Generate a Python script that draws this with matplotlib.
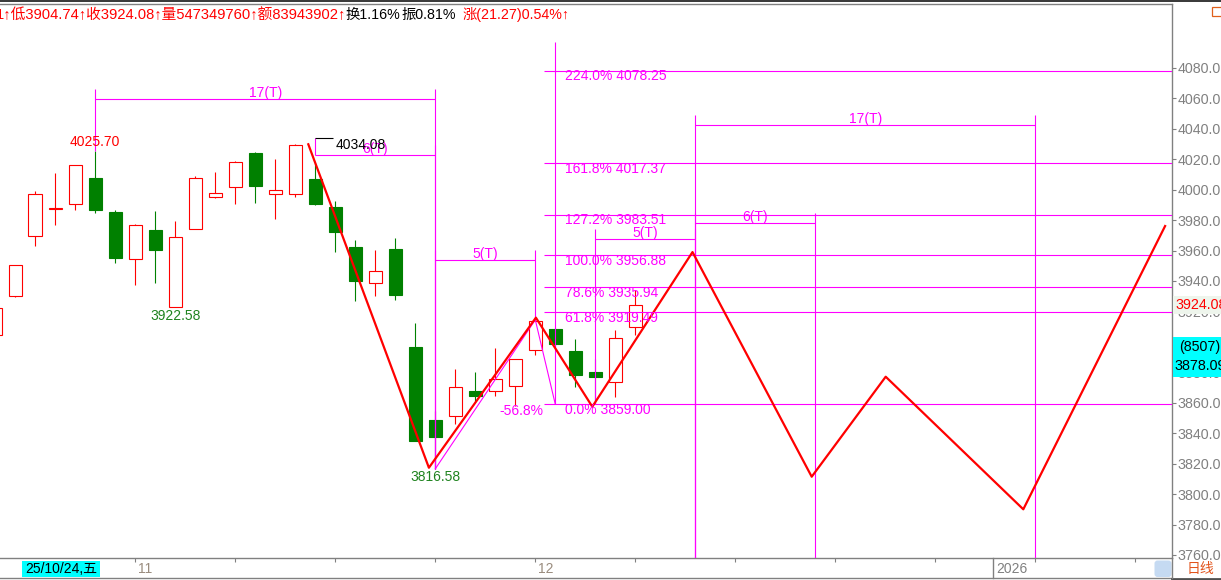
import matplotlib
matplotlib.use('Agg')
import matplotlib.pyplot as plt
from matplotlib.patches import Rectangle, FancyBboxPatch

plt.rcParams['font.family'] = ['Liberation Sans', 'Noto Sans CJK SC', 'DejaVu Sans']

W, H = 1221, 580
RED = '#ff0000'
GREEN = '#008000'
MAG = '#ff00ff'
GRAY = '#808080'

# daily bars, oldest first (bar 0 is cut by the left edge)
opens  = [3904.5, 3930.0, 3969.4, 3987.3, 3990.4, 4007.7, 3985.3, 3954.3, 3973.3, 3922.58,
          3974.0, 3995.0, 4002.0, 4024.1, 3997.0, 3997.0, 4007.0, 3988.6, 3962.4, 3938.5,
          3961.0, 3896.6, 3848.7, 3851.3, 3867.7, 3867.5, 3871.2, 3894.7, 3908.3, 3894.0,
          3880.0, 3873.5, 3909.6]
highs  = [3924.0, 3950.5, 3999.1, 4010.8, 4016.3, 4025.70, 3986.5, 3977.3, 3986.0, 3979.2,
          4008.8, 4011.6, 4018.9, 4024.8, 4020.2, 4029.8, 4017.3, 3992.6, 3967.0, 3960.1,
          3968.3, 3912.4, 3854.6, 3882.2, 3880.0, 3896.2, 3888.8, 3914.46, 3909.0, 3901.9,
          3888.8, 3907.8, 3934.1]
lows   = [3903.0, 3929.3, 3963.2, 3976.8, 3986.9, 3984.9, 3952.0, 3937.6, 3938.9, 3922.58,
          3974.0, 3994.3, 3990.8, 3991.5, 3981.0, 3995.0, 3990.0, 3959.3, 3927.1, 3930.4,
          3927.5, 3835.1, 3816.58, 3845.9, 3860.7, 3864.7, 3857.9, 3891.4, 3897.5, 3870.6,
          3859.00, 3864.0, 3904.74]
closes = [3922.3, 3950.3, 3997.0, 3988.0, 4016.0, 3986.9, 3955.3, 3976.6, 3960.6, 3968.7,
          4007.5, 3997.6, 4018.0, 4002.4, 3999.6, 4029.2, 3990.8, 3972.4, 3940.2, 3946.4,
          3930.8, 3835.1, 3837.3, 3870.2, 3864.7, 3875.4, 3888.8, 3913.9, 3898.4, 3878.4,
          3876.7, 3902.81, 3924.08]

# hand drawn red zigzag (bar index, price)
zz_x = [15.65, 21.68, 27.03, 29.85, 34.86, 40.82, 44.52, 51.40, 58.49]
zz_y = [4029.8, 3817.3, 3915.9, 3857.4, 3959.0, 3811.4, 3877.1, 3790.0, 3976.1]

# fibonacci extension tool
fib_x = [22, 27, 28]
fib_y = [3816.58, 3914.46, 3859.00]
fib_ratio = ['224.0%', '161.8%', '127.2%', '100.0%', '78.6%', '61.8%', '0.0%']
fib_price = [4078.25, 4017.37, 3983.51, 3956.88, 3935.94, 3919.49, 3859.00]
fib_x0 = 27.45

# time cycle rulers
cyc_start = [5, 16, 22, 30, 35, 35]
cyc_end = [22, 22, 27, 35, 52, 41]
cyc_level = [4059.4, 4022.8, 3953.9, 3967.4, 4042.3, 3977.9]
cyc_anchor_l = [4025.70, 4034.08, 3816.58, 3859.00, None, None]
cyc_anchor_r = [3816.58, 3816.58, 3914.46, None, None, None]

price_ticks = list(range(3760, 4081, 20))
week_ticks = [12, 17, 22, 32, 37, 42, 47, 52, 57]
month_ticks = [7, 27]
month_labels = ['11', '12']
year_tick = 49.9

fig = plt.figure(figsize=(W / 100, H / 100), dpi=100)
ax = fig.add_axes([0, 22 / H, 1172 / W, 554.5 / H])
ax.set_xlim(0.235, 58.835)
ax.set_ylim(3758.0, 4122.3)
ybot, ytop = ax.get_ylim()
xright = ax.get_xlim()[1]

# candles
w = 0.68
for i in range(len(opens)):
    o, h, l, c = opens[i], highs[i], lows[i], closes[i]
    up = c >= o
    col = RED if up else GREEN
    ax.vlines(i, l, h, color=col, lw=0.8, zorder=2)
    ax.add_patch(Rectangle((i - w / 2, min(o, c)), w, max(abs(c - o), 0.4),
                           facecolor='white' if up else col, edgecolor=col, lw=0.8, zorder=3))

# time cycles
seg = dict(color=MAG, lw=0.8, zorder=4)
for s, e, lv, al, ar in zip(cyc_start, cyc_end, cyc_level, cyc_anchor_l, cyc_anchor_r):
    top = lv + 6.6
    ax.hlines(lv, s, e, **seg)
    for x, a in ((s, al), (e, ar)):
        a = ybot if a is None else a
        ax.vlines(x, min(a, lv), max(a, top), **seg)
    ax.annotate(f'{e - s}(T)', xy=((s + e) / 2, lv), xytext=(0, 6), textcoords='offset pixels',
                ha='center', va='center', color=MAG, fontsize=10, zorder=6)

# fib extension
ax.plot(fib_x, fib_y, color=MAG, lw=0.8, zorder=4)
ax.hlines(fib_price, fib_x0, xright, **seg)
ax.vlines(fib_x[2], fib_y[2], 4097, **seg)
for r, p in zip(fib_ratio, fib_price):
    ax.annotate(f'{r} {p:.2f}', xy=(fib_x0, p), xytext=(20.5, -5.7), textcoords='offset pixels',
                ha='left', va='center', color=MAG, fontsize=10, zorder=6)
ax.annotate('-56.8%', xy=(fib_x0, fib_y[2]), xytext=(-1, -7), textcoords='offset pixels',
            ha='right', va='center', color=MAG, fontsize=10, zorder=6)

# zigzag
ax.plot(zz_x, zz_y, color=RED, lw=1.6, zorder=5)

# price labels
ax.annotate('4025.70', xy=(5, 4025.70), xytext=(0, 8.5), textcoords='offset pixels',
            ha='center', va='center', color=RED, fontsize=10, zorder=6)
ax.annotate('3922.58', xy=(9, 3922.58), xytext=(0, -8.7), textcoords='offset pixels',
            ha='center', va='center', color='#1f831f', fontsize=10, zorder=6)
ax.annotate('3816.58', xy=(22, 3816.58), xytext=(0, -8.5), textcoords='offset pixels',
            ha='center', va='center', color='#1f831f', fontsize=10, zorder=6)
ax.hlines(4034.08, 16, 16.87, color='black', lw=0.8, zorder=5)
ax.annotate('4034.08', xy=(16, 4034.08), xytext=(20, -7.7), textcoords='offset pixels',
            ha='left', va='center', color='black', fontsize=10, zorder=6)

# axes styling
ax.yaxis.tick_right()
ax.set_yticks(price_ticks)
ax.set_yticklabels([f'{v:.1f}' for v in price_ticks])
ax.tick_params(axis='y', direction='out', length=3, width=0.8, color=GRAY,
               labelcolor=GRAY, labelsize=10.3, pad=1.2)
ax.set_xticks(week_ticks + month_ticks)
ax.tick_params(axis='x', direction='out', length=3, width=0.8, color=GRAY, labelbottom=False)
ax.spines['left'].set_visible(False)
for sp in ('top', 'bottom', 'right'):
    ax.spines[sp].set_color(GRAY)
    ax.spines[sp].set_linewidth(1.0)

for m, lbl in zip(month_ticks, month_labels):
    ax.annotate(lbl, xy=(m, 0), xycoords=('data', 'axes fraction'), xytext=(3, -11),
                textcoords='offset pixels', ha='left', va='center', color='#9a8c7e', fontsize=10)
ax.axvline(year_tick, ymin=-0.036, ymax=0, clip_on=False, color=GRAY, lw=1.0)
ax.annotate('2026', xy=(year_tick, 0), xycoords=('data', 'axes fraction'), xytext=(2.5, -11),
            textcoords='offset pixels', ha='left', va='center', color=GRAY, fontsize=10)
ax.annotate(f'{closes[-1]:.2f}', xy=(1, closes[-1]), xycoords=('axes fraction', 'data'),
            xytext=(3, 0), textcoords='offset pixels', ha='left', va='center', color=RED,
            fontsize=10.3, zorder=7, annotation_clip=False,
            bbox=dict(boxstyle='square,pad=0.12', fc='#eef5ec', ec='none'))

# window chrome in pixel coordinates
ov = fig.add_axes([0, 0, 1, 1], zorder=10)
ov.set_xlim(0, W)
ov.set_ylim(H, 0)
ov.axis('off')
ov.add_patch(Rectangle((0, 0), W, 2.3, fc='#3c3c3c', ec='none'))
ov.add_patch(Rectangle((1211.5, 6.5), 10, 9, fill=False, ec='#e0601c', lw=0.9))
ov.plot([0, 1172], [577.7, 577.7], color=GRAY, lw=1.0)
ov.plot([1172, 1221], [579, 579], color='#505050', lw=2.0)
ov.plot([1172, 1172], [558, 578], color=GRAY, lw=1.0)
ov.add_patch(Rectangle((22.3, 560.7), 77.7, 16.6, fc='#00ffff', ec='none'))
ov.text(61, 569, '25/10/24,五', ha='center', va='center', color='black', fontsize=10)
ov.add_patch(FancyBboxPatch((1156, 562), 14, 13.5, boxstyle='round,pad=1.5,rounding_size=3',
                            fc='#c5daf2', ec='none'))
ov.text(1200, 569, '日线', ha='center', va='center', color='#e2541c', fontsize=10)
ov.add_patch(Rectangle((1172.7, 337.3), 48.3, 39.4, fc='#00ffff', ec='none'))
ov.text(1179, 347, '(8507)', ha='left', va='center', color='black', fontsize=10.3)
ov.text(1174.5, 366, '3878.09', ha='left', va='center', color='black', fontsize=10.3)

# top info line
top_segments = [(-4.5, '1↑低3904.74↑收3924.08↑量547349760↑额83943902↑', RED, 10.6),
                (345.6, '换1.16%', 'black', 10.3),
                (401.8, '振0.81%', 'black', 10.3),
                (463, '涨(21.27)0.54%↑', RED, 10.3)]
for x, s, col, fs in top_segments:
    ov.text(x, 14.5, s, ha='left', va='center', color=col, fontsize=fs)

fig.savefig('out.png', dpi=100)
